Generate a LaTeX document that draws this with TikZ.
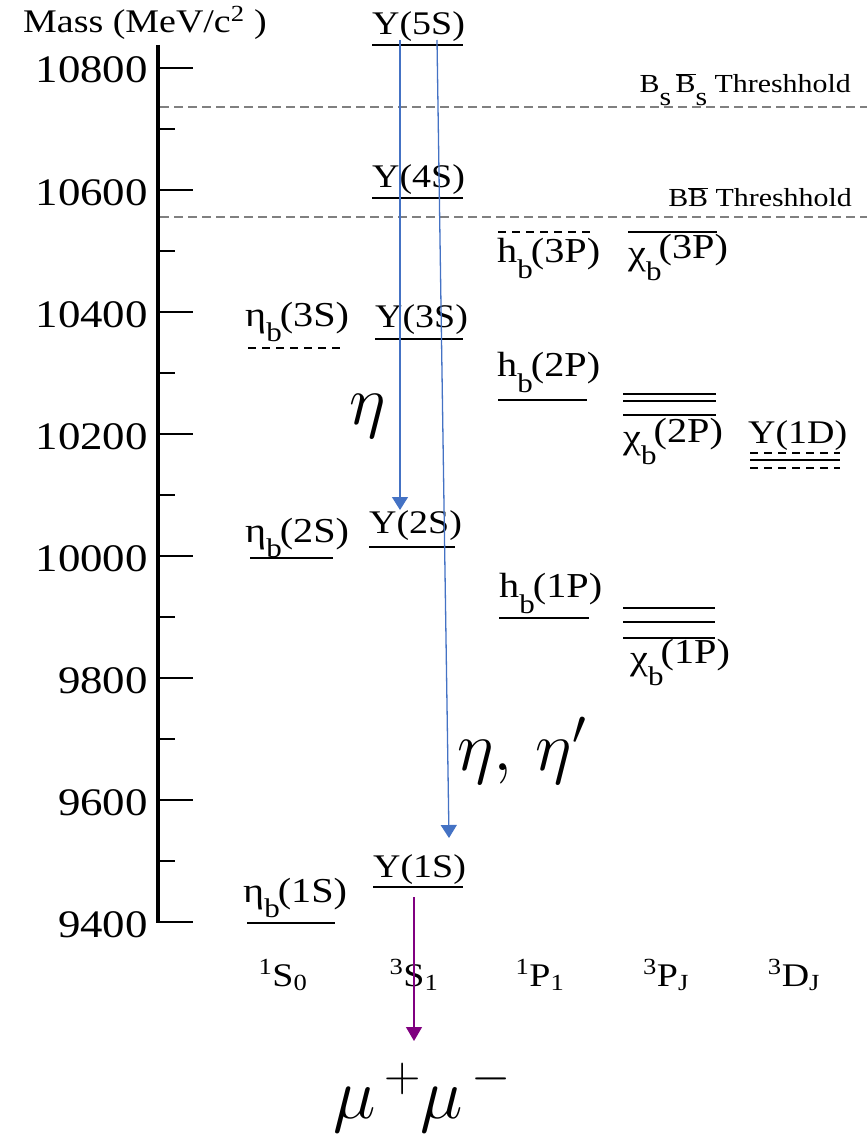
\RequirePackage{fix-cm}
\documentclass[tikz,border=0pt]{standalone}
\usepackage[no-math]{fontspec}
\setmainfont{Liberation Serif}[FakeStretch=1.15]
\usetikzlibrary{arrows.meta}
\definecolor{arrblue}{RGB}{68,114,196}
\definecolor{arrpurple}{RGB}{128,0,128}
\definecolor{thrgray}{RGB}{128,128,128}
\newcommand\subf{\fontsize{27}{27}\selectfont}
\newcommand\hb[1]{h\raisebox{-16pt}{\subf b}\kern-2pt(#1)}
\newcommand\etab[1]{η\raisebox{-15pt}{\subf b}\kern-2pt(#1)}
\newcommand\chib[1]{\raisebox{-6pt}{χ}\raisebox{-22pt}{\subf b}\kern-3pt(#1)}
\newcommand\obar[1]{\ensuremath{\overline{\hbox{#1}}}}
\begin{document}
\begin{tikzpicture}[x=1pt,y=-1pt,
  lvl/.style={line width=1.8pt},
  dlvl/.style={line width=1.6pt, dash pattern=on 8pt off 6pt},
  thr/.style={thrgray, line width=1.3pt, dash pattern=on 9pt off 5pt},
  lab/.style={anchor=base west, inner sep=0pt, font=\fontsize{33}{33}\selectfont},
  plab/.style={anchor=base west, inner sep=0pt, font=\fontsize{35}{35}\selectfont},
  ticklab/.style={anchor=base east, inner sep=0pt, font=\fontsize{39}{39}\selectfont},
  thrlab/.style={anchor=base east, inner sep=0pt, font=\fontsize{26}{26}\selectfont},
  wave/.style={anchor=base, inner sep=0pt, font=\fontsize{33}{33}\selectfont},
  mathlab/.style={anchor=base west, inner sep=0pt, font=\fontsize{70}{70}\selectfont},
  barrow/.style={arrblue, line width=1.3pt, -{Triangle[width=16pt,length=13pt]}},
  parrow/.style={arrpurple, line width=1.3pt, -{Triangle[width=16pt,length=14pt]}}]
\useasboundingbox (0,0) rectangle (867,1134);

% axis
\node[anchor=base west, inner sep=0pt, font=\fontsize{33}{33}\selectfont] (title) at (23,33) {Mass (MeV/c\textsuperscript{2}\ )};
\draw[line width=3.5pt] (158,45) -- (158,923);
\foreach \i/\m in {0/10800,1/10600,2/10400,3/10200,4/10000,5/9800,6/9600,7/9400}{
  \draw[line width=2.5pt] (158,{68+122*\i}) -- (193,{68+122*\i});
  \node[ticklab] (tick\i) at (148,{83+122*\i}) {\m};
}
\foreach \i in {0,...,6}{
  \draw[line width=2.5pt] (158,{129+122*\i}) -- (175,{129+122*\i});
}

% thresholds
\draw[thr] (160,107) -- (867,107);
\draw[thr] (160,217) -- (867,217);
\node[thrlab] (bsbs) at (851,93) {B\raisebox{-13pt}{s}\,\obar{B}\raisebox{-13pt}{s} Threshhold};
\node[thrlab] (bb) at (852,207) {B\obar{B} Threshhold};

% 3S1 column
\node[lab] (y5s) at (372,35) {Y(5S)};
\draw[lvl] (372,45) -- (463,45);
\node[lab] (y4s) at (372,187) {Y(4S)};
\draw[lvl] (372,198) -- (463,198);
\node[lab] (y3s) at (375,327) {Y(3S)};
\draw[lvl] (375,339) -- (463,339);
\node[lab] (y2s) at (369,533) {Y(2S)};
\draw[lvl] (369,547) -- (455,547);
\node[lab] (y1s) at (373,877) {Y(1S)};
\draw[lvl] (373,887) -- (463,887);

% 1S0 column
\node[plab] (eb3s) at (245,326) {\etab{3S}};
\draw[dlvl] (248,348) -- (340,348);
\node[plab] (eb2s) at (245,542) {\etab{2S}};
\draw[lvl] (250,558) -- (333,558);
\node[plab] (eb1s) at (243,902) {\etab{1S}};
\draw[lvl] (247,923) -- (335,923);

% 1P1 column
\draw[dlvl] (498,232) -- (590,232);
\node[plab] (hb3p) at (497,262) {\hb{3P}};
\node[plab] (hb2p) at (497,376) {\hb{2P}};
\draw[lvl] (498,400) -- (587,400);
\node[plab] (hb1p) at (499,597) {\hb{1P}};
\draw[lvl] (499,618) -- (589,618);

% 3PJ column
\draw[lvl] (628,232) -- (717,232);
\node[plab] (cb3p) at (628,258) {\chib{3P}};
\draw[lvl] (623,394) -- (716,394);
\draw[lvl] (623,401) -- (716,401);
\draw[lvl] (623,415) -- (716,415);
\node[plab] (cb2p) at (623,442) {\chib{2P}};
\draw[lvl] (623,608) -- (715,608);
\draw[lvl] (623,622) -- (715,622);
\draw[lvl] (623,638) -- (715,638);
\node[plab] (cb1p) at (630,663) {\chib{1P}};

% 3DJ column
\node[lab] (y1d) at (748,443) {Y(1D)};
\draw[dlvl] (750,453) -- (840,453);
\draw[lvl] (750,460) -- (840,460);
\draw[dlvl] (750,468) -- (840,468);

% spectroscopic labels
\node[wave] (s10) at (283,986) {\textsuperscript{1}S\textsubscript{0}};
\node[wave] (s31) at (414,986) {\textsuperscript{3}S\textsubscript{1}};
\node[wave] (p11) at (540,986) {\textsuperscript{1}P\textsubscript{1}};
\node[wave] (p3j) at (666,986) {\textsuperscript{3}P\textsubscript{J}};
\node[wave] (d3j) at (794,986) {\textsuperscript{3}D\textsubscript{J}};

% transitions
\coordinate (a1s) at (400,40);
\coordinate (a1e) at (400,510);
\coordinate (a2s) at (437,40);
\coordinate (a2e) at (449,838);
\coordinate (ms) at (414,897);
\coordinate (me) at (414,1041);
\draw[barrow] (a1s) -- (a1e);
\draw[barrow] (a2s) -- (a2e);
\draw[parrow] (ms) -- (me);
\node[mathlab] (eta) at (349,424) {$\eta$};
\node[mathlab] (etap) at (457,770) {$\eta,\,\eta'$};
\node[mathlab, font=\fontsize{72}{72}\selectfont] (mumu) at (333,1118) {$\mu^{\,+}\mu^{\,-}$};
\end{tikzpicture}
\end{document}
